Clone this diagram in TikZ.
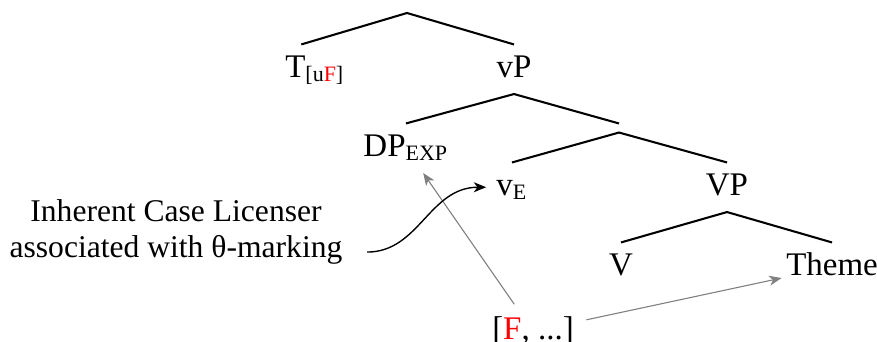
\documentclass[tikz,border=0pt]{standalone}
\usepackage{fontspec}
\setmainfont{Liberation Serif}
\usepackage{xcolor}
\usetikzlibrary{arrows.meta}

\begin{document}
\begin{tikzpicture}[
    x=0.364pt, y=-0.364pt,
    cat/.style={anchor=base, font=\fontsize{12}{14}\selectfont, inner xsep=1.5pt, inner ysep=3.65pt, text height=8pt, text depth=2.35pt},
    branch/.style={line width=0.75pt},
    agree/.style={gray, line width=0.4pt, -{Stealth[length=4.5pt, width=3.6pt, inset=1.3pt]}},
]
\useasboundingbox (0,0) rectangle (877,341);

% Tree nodes
\coordinate (root) at (407,13);
\node[cat] (T) at (315,77) {T\textsubscript{[u\textcolor{red}{F}]}};
\node[cat] (vP) at (514,77) {vP};
\node[cat] (DPexp) at (406,156) {DP\textsubscript{EXP}};
\node[inner sep=0pt, minimum height=2.9pt] (vbar) at (619,128) {};
\node[cat] (vE) at (512,195) {v\textsubscript{E}};
\node[cat] (VP) at (727,195) {VP};
\node[cat] (V) at (621,275) {V};
\node[cat] (theme) at (832,275) {Theme};

% Features and comment
\node[cat] (feat) at (533,339) {[\textcolor{red}{F}, ...]};
\node[font=\fontsize{11.5}{12.8}\selectfont, align=center] (licenser) at (176,232) {Inherent Case Licenser\\associated with θ-marking};

% Branches
\draw[branch] ([xshift=-5pt]T.north) -- (root) -- (vP.north);
\foreach \mom/\kidA/\kidB in {vP.south/DPexp.north/vbar.north, vbar.south/vE.north/VP.north, VP.south/V.north/theme.north} {
    \draw[branch] (\kidA) -- (\mom) -- (\kidB);
}

% Arrows
\draw[agree, shorten <=1pt] (feat) -- (DPexp);
\draw[agree, shorten <=3pt] (feat) -- (theme);
\draw[line width=0.5pt, -{Stealth[length=4.5pt, width=3.6pt, inset=1.3pt]}] ([shift={(5.5pt,-7.3pt)}]licenser.east) .. controls +(52,0) and +(-57,0) .. ([xshift=-2pt]vE.west);

\end{tikzpicture}
\end{document}
